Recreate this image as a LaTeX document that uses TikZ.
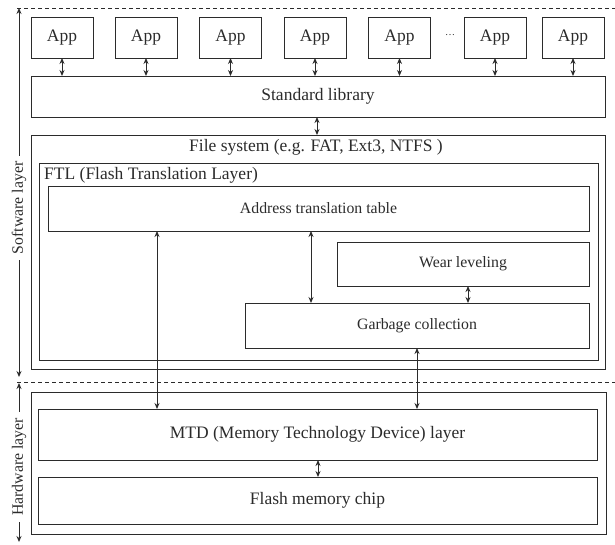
\documentclass[tikz,border=0pt]{standalone}
\usepackage{fontspec}
\setmainfont{Liberation Serif}
\usetikzlibrary{arrows.meta}
\definecolor{ink}{HTML}{2B2B2B}
\tikzset{
  box/.style={draw=ink, line width=0.9pt, inner sep=0pt, outer sep=0pt, rectangle, text=ink},
  big/.style={font=\fontsize{17.5}{20}\selectfont},
  small/.style={font=\fontsize{15.8}{18}\selectfont},
  link/.style={draw=ink, line width=0.9pt, {Stealth[length=6pt,width=5pt]}-{Stealth[length=6pt,width=5pt]}},
  sep/.style={draw=ink, line width=0.8pt, dash pattern=on 4pt off 3pt},
}
\begin{document}
\begin{tikzpicture}[x=1pt, y=-1pt]
\useasboundingbox (0,0) rectangle (615,544);

% layer separators
\draw[sep] (17,8) -- (615,8);
\draw[sep] (17,382) -- (615,382);

% applications
\foreach \n/\cx in {1/62, 2/146, 3/230.5, 4/315, 5/399.5, 6/495, 7/573}
  \node[box, big, minimum width=62pt, minimum height=41pt] (app\n) at (\cx,37.5) {App};
\node[text=ink, font=\fontsize{10}{12}\selectfont] (dots) at (450,35) {\dots};

\node[box, big, minimum width=574pt, minimum height=41pt] (std) at (318,96.5) {Standard library};

% file system with FTL inside
\node[box, minimum width=574pt, minimum height=234pt] (fs) at (318,252) {};
\node[big, text=ink] (fstext) at (316,147) {File system (e.g. FAT, Ext3, NTFS )};
\node[box, minimum width=559pt, minimum height=197pt] (ftl) at (318.5,261.5) {};
\node[big, text=ink, anchor=west, inner sep=0pt] (ftltext) at (44,175) {FTL (Flash Translation Layer)};
\node[box, small, minimum width=541pt, minimum height=45pt] (addr) at (318.5,208.5) {Address translation table};
\node[box, small, minimum width=252pt, minimum height=44pt] (wear) at (463,264) {Wear leveling};
\node[box, small, minimum width=344pt, minimum height=45pt] (gc) at (417,325.5) {Garbage collection};

% hardware
\node[box, minimum width=575pt, minimum height=142pt] (hw) at (318.5,463) {};
\node[box, big, minimum width=559pt, minimum height=51pt] (mtd) at (317.5,434.5) {MTD (Memory Technology Device) layer};
\node[box, big, minimum width=559pt, minimum height=47pt] (flash) at (317.5,500.5) {Flash memory chip};

% connectors
\foreach \n in {1,...,7}
  \draw[link] (app\n.south) -- (app\n.south |- std.north);
\draw[link] ([xshift=-1pt]std.south) -- ([xshift=-1pt]std.south |- fs.north);
\draw[link] (addr.south -| 311,0) -- (gc.north -| 311,0);
\draw[link] (wear.south -| 468,0) -- (gc.north -| 468,0);
\draw[link] (addr.south -| 157,0) -- (mtd.north -| 157,0);
\draw[link] (gc.south -| 417,0) -- (mtd.north -| 417,0);
\draw[link] (mtd.south -| 318,0) -- (flash.north -| 318,0);

% layer axis
\coordinate (swtop) at (19,8);
\coordinate (swbot) at (19,377);
\coordinate (hwtop) at (19,383);
\coordinate (hwbot) at (19,542);
\draw[link] (swtop) -- (swbot);
\draw[link] (hwtop) -- (hwbot);
\node[small, text=ink, fill=white, rotate=90, inner xsep=6pt, inner ysep=1pt] (swlabel) at (19,208) {Software layer};
\node[small, text=ink, fill=white, rotate=90, inner xsep=6pt, inner ysep=1pt] (hwlabel) at (19,467) {Hardware layer};
\end{tikzpicture}
\end{document}
